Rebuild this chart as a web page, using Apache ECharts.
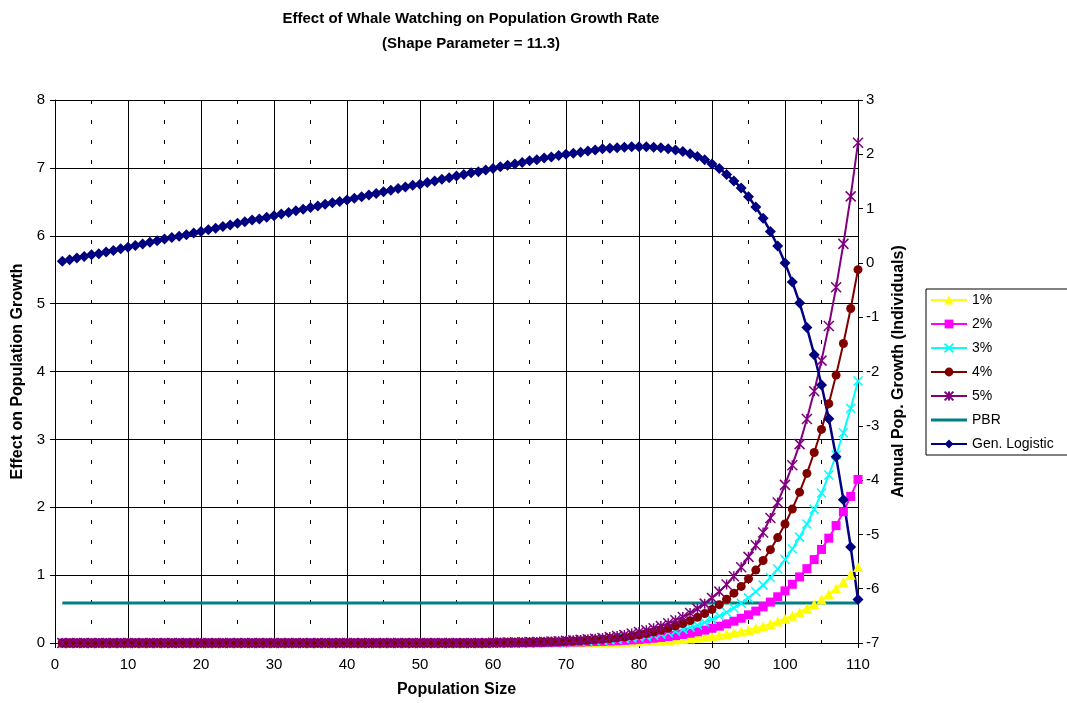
<!DOCTYPE html>
<html>
<head>
<meta charset="utf-8">
<script src="https://cdn.jsdelivr.net/npm/echarts@6/dist/echarts.min.js"></script>
<style>
  html, body { margin: 0; padding: 0; background: #fff; }
  #chart { width: 1067px; height: 703px; }
</style>
</head>
<body>
<div id="chart"></div>
<script>
// population sizes (x values of every marker)
const popSize = [
  1, 2, 3, 4, 5, 6, 7, 8, 9, 10,
  11, 12, 13, 14, 15, 16, 17, 18, 19, 20,
  21, 22, 23, 24, 25, 26, 27, 28, 29, 30,
  31, 32, 33, 34, 35, 36, 37, 38, 39, 40,
  41, 42, 43, 44, 45, 46, 47, 48, 49, 50,
  51, 52, 53, 54, 55, 56, 57, 58, 59, 60,
  61, 62, 63, 64, 65, 66, 67, 68, 69, 70,
  71, 72, 73, 74, 75, 76, 77, 78, 79, 80,
  81, 82, 83, 84, 85, 86, 87, 88, 89, 90,
  91, 92, 93, 94, 95, 96, 97, 98, 99, 100,
  101, 102, 103, 104, 105, 106, 107, 108, 109, 110
]

// effect on population growth (left axis), one value per popSize
const eff1 = [
  0, 0, 0, 0, 0, 0, 0, 0, 0, 0,
  0, 0, 0, 0, 0, 0, 0, 0, 0, 0,
  0, 0, 0, 0, 0, 0, 0, 0, 0, 0,
  0, 0, 0, 0, 0, 0, 0, 0, 0, 0,
  0, 0, 0, 0, 0, 0, 0, 0, 0, 0,
  0, 0, 0, 0, 0, 0, 0, 0, 0,
  0.001, 0.001, 0.001, 0.001, 0.002, 0.002, 0.002, 0.003, 0.003, 0.004,
  0.005, 0.006, 0.007, 0.008, 0.010, 0.011, 0.013, 0.016, 0.018, 0.021,
  0.025, 0.028, 0.033, 0.038, 0.044, 0.051, 0.058, 0.067, 0.077, 0.088,
  0.101, 0.115, 0.131, 0.149, 0.170, 0.193, 0.219, 0.248, 0.280, 0.316,
  0.357, 0.402, 0.453, 0.509, 0.571, 0.641, 0.718, 0.804, 0.899, 1.004,
  1.12
]
const eff2 = [
  0, 0, 0, 0, 0, 0, 0, 0, 0, 0,
  0, 0, 0, 0, 0, 0, 0, 0, 0, 0,
  0, 0, 0, 0, 0, 0, 0, 0, 0, 0,
  0, 0, 0, 0, 0, 0, 0, 0, 0, 0,
  0, 0, 0, 0, 0, 0, 0, 0, 0, 0,
  0, 0, 0, 0, 0, 0, 0, 0, 0,
  0.002, 0.002, 0.002, 0.003, 0.004, 0.004, 0.005, 0.006, 0.008, 0.009,
  0.011, 0.013, 0.015, 0.018, 0.021, 0.024, 0.029, 0.033, 0.039, 0.045,
  0.053, 0.061, 0.071, 0.082, 0.095, 0.109, 0.126, 0.144, 0.166, 0.190,
  0.217, 0.248, 0.282, 0.321, 0.365, 0.415, 0.470, 0.533, 0.603, 0.681,
  0.768, 0.865, 0.974, 1.095, 1.229, 1.379, 1.545, 1.730, 1.934, 2.160,
  2.41
]
const eff3 = [
  0, 0, 0, 0, 0, 0, 0, 0, 0, 0,
  0, 0, 0, 0, 0, 0, 0, 0, 0, 0,
  0, 0, 0, 0, 0, 0, 0, 0, 0, 0,
  0, 0, 0, 0, 0, 0, 0, 0, 0, 0,
  0, 0, 0, 0, 0, 0, 0, 0, 0, 0,
  0, 0, 0, 0, 0, 0, 0, 0, 0,
  0.003, 0.003, 0.004, 0.005, 0.006, 0.007, 0.008, 0.010, 0.012, 0.014,
  0.017, 0.020, 0.024, 0.028, 0.033, 0.039, 0.046, 0.053, 0.062, 0.073,
  0.085, 0.098, 0.114, 0.131, 0.152, 0.175, 0.201, 0.231, 0.265, 0.304,
  0.347, 0.397, 0.452, 0.515, 0.585, 0.665, 0.754, 0.853, 0.965, 1.090,
  1.230, 1.386, 1.560, 1.754, 1.969, 2.209, 2.475, 2.770, 3.097, 3.459,
  3.86
]
const eff4 = [
  0, 0, 0, 0, 0, 0, 0, 0, 0, 0,
  0, 0, 0, 0, 0, 0, 0, 0, 0, 0,
  0, 0, 0, 0, 0, 0, 0, 0, 0, 0,
  0, 0, 0, 0, 0, 0, 0, 0, 0, 0,
  0, 0, 0, 0, 0, 0, 0, 0, 0, 0,
  0, 0, 0, 0, 0, 0, 0, 0, 0,
  0.004, 0.005, 0.006, 0.007, 0.008, 0.010, 0.012, 0.014, 0.017, 0.020,
  0.024, 0.029, 0.034, 0.040, 0.047, 0.056, 0.065, 0.076, 0.089, 0.104,
  0.120, 0.140, 0.162, 0.187, 0.216, 0.249, 0.287, 0.329, 0.378, 0.433,
  0.495, 0.565, 0.644, 0.734, 0.834, 0.947, 1.074, 1.216, 1.375, 1.553,
  1.753, 1.975, 2.222, 2.499, 2.806, 3.147, 3.526, 3.947, 4.413, 4.929,
  5.50
]
const eff5 = [
  0, 0, 0, 0, 0, 0, 0, 0, 0, 0,
  0, 0, 0, 0, 0, 0, 0, 0, 0, 0,
  0, 0, 0, 0, 0, 0, 0, 0, 0, 0,
  0, 0, 0, 0, 0, 0, 0, 0, 0, 0,
  0, 0, 0, 0, 0, 0, 0, 0, 0, 0,
  0, 0, 0, 0, 0, 0, 0, 0, 0,
  0.005, 0.006, 0.008, 0.009, 0.011, 0.013, 0.016, 0.019, 0.023, 0.027,
  0.033, 0.039, 0.046, 0.054, 0.063, 0.074, 0.087, 0.102, 0.119, 0.139,
  0.161, 0.187, 0.217, 0.251, 0.290, 0.334, 0.384, 0.441, 0.506, 0.580,
  0.663, 0.757, 0.863, 0.983, 1.117, 1.269, 1.439, 1.629, 1.843, 2.070,
  2.330, 2.620, 2.930, 3.300, 3.710, 4.160, 4.670, 5.240, 5.880, 6.580,
  7.37
]

// PBR is flat across the whole range
const pbrX = [1, 110]
const pbrValue = [0.59, 0.59]

// annual pop. growth (right axis)
const genLogistic = [
  0.03, 0.06, 0.09, 0.12, 0.15, 0.17, 0.20, 0.23, 0.26, 0.29,
  0.32, 0.35, 0.38, 0.41, 0.44, 0.47, 0.49, 0.52, 0.55, 0.58,
  0.61, 0.64, 0.67, 0.70, 0.73, 0.76, 0.79, 0.81, 0.84, 0.87,
  0.90, 0.93, 0.96, 0.99, 1.02, 1.05, 1.08, 1.11, 1.13, 1.16,
  1.19, 1.22, 1.25, 1.28, 1.31, 1.34, 1.37, 1.40, 1.43, 1.45,
  1.48, 1.51, 1.54, 1.57, 1.60, 1.63, 1.66, 1.68, 1.71, 1.74,
  1.77, 1.80, 1.82, 1.85, 1.88, 1.90, 1.93, 1.95, 1.98, 2.00,
  2.02, 2.04, 2.06, 2.08, 2.10, 2.11, 2.12, 2.13, 2.14, 2.14,
  2.14, 2.13, 2.12, 2.10, 2.08, 2.05, 2.01, 1.96, 1.90, 1.82,
  1.74, 1.63, 1.51, 1.38, 1.22, 1.03, 0.82, 0.58, 0.31, 0.00,
  -0.35, -0.74, -1.19, -1.69, -2.25, -2.87, -3.57, -4.36, -5.23, -6.20
]

const FONT = "'Liberation Sans', Arial, sans-serif"
const SYM_X = 'path://M0,0L10,10M10,0L0,10'
const SYM_STAR = 'path://M0,0L10,10M10,0L0,10M5,0L5,10'

function pairs(xs, ys) {
  return xs.map((x, i) => [x, ys[i]])
}

function effectSeries(name, values, color, symbol, size, stroke) {
  return {
    name,
    type: 'line',
    xAxisIndex: 0,
    yAxisIndex: 0,
    data: pairs(popSize, values),
    symbol,
    symbolSize: size,
    lineStyle: { color, width: 2 },
    itemStyle: stroke
      ? { color, borderColor: color, borderWidth: 1.5 }
      : { color, borderWidth: 0 },
  }
}

const chart = echarts.init(document.getElementById('chart'))

const axisName = { fontWeight: 'bold', fontSize: 16, color: '#000' }

const option = {
  animation: false,
  backgroundColor: '#fff',
  textStyle: { fontFamily: FONT },
  graphic: [
    {
      type: 'text',
      x: 471,
      y: 6,
      style: {
        text: 'Effect of Whale Watching on Population Growth Rate\n(Shape Parameter = 11.3)',
        textAlign: 'center',
        font: 'bold 15px ' + FONT,
        lineHeight: 25,
        fill: '#000',
      },
    },
  ],
  grid: { left: 55, right: 209, top: 100, bottom: 58 },
  legend: {
    orient: 'vertical',
    left: 926,
    top: 289,
    padding: [4, 14, 4, 4],
    itemGap: 10,
    itemWidth: 36,
    itemHeight: 11,
    borderColor: '#000',
    borderWidth: 1,
    textStyle: { fontSize: 14, color: '#000', fontFamily: FONT },
    data: [
      '1%', '2%', '3%', '4%', '5%',
      // plain line, no marker, for PBR
      { name: 'PBR', icon: 'path://M0,0H36V3H0Z' },
      'Gen. Logistic',
    ],
  },
  xAxis: {
    type: 'value',
    min: 0,
    max: 110,
    interval: 10,
    name: 'Population Size',
    nameLocation: 'middle',
    nameGap: 39,
    nameTextStyle: axisName,
    axisLine: { show: true, lineStyle: { color: '#000', width: 1 } },
    axisTick: { show: true, length: 5, lineStyle: { color: '#000' } },
    axisLabel: { fontSize: 15, color: '#000', margin: 14 },
    splitLine: { show: true, lineStyle: { color: '#000', width: 1 } },
    minorTick: { show: false, splitNumber: 2 },
    minorSplitLine: { show: true, lineStyle: { color: '#000', width: 1, type: [4, 16] } },
  },
  yAxis: [
    {
      type: 'value',
      min: 0,
      max: 8,
      interval: 1,
      name: 'Effect on Population Growth',
      nameLocation: 'middle',
      nameGap: 29,
      nameRotate: 90,
      nameTextStyle: axisName,
      axisLine: { show: true, lineStyle: { color: '#000', width: 1 } },
      axisTick: { show: true, length: 5, lineStyle: { color: '#000' } },
      axisLabel: { fontSize: 15, color: '#000', margin: 10 },
      splitLine: { show: true, lineStyle: { color: '#000', width: 1 } },
    },
    {
      type: 'value',
      position: 'right',
      min: -7,
      max: 3,
      interval: 1,
      name: 'Annual Pop. Growth (Individuals)',
      nameLocation: 'middle',
      nameGap: 33,
      nameRotate: 90,
      nameTextStyle: axisName,
      axisLine: { show: true, lineStyle: { color: '#000', width: 1 } },
      axisTick: { show: true, length: 5, lineStyle: { color: '#000' } },
      axisLabel: { fontSize: 15, color: '#000', margin: 8 },
      splitLine: { show: false },
    },
  ],
  series: [
    effectSeries('1%', eff1, '#ffff00', 'triangle', 10, false),
    effectSeries('2%', eff2, '#ff00ff', 'rect', 9, false),
    effectSeries('3%', eff3, '#00ffff', SYM_X, 9, true),
    effectSeries('4%', eff4, '#800000', 'circle', 9, false),
    effectSeries('5%', eff5, '#800080', SYM_STAR, 10, true),
    {
      name: 'PBR',
      type: 'line',
      xAxisIndex: 0,
      yAxisIndex: 0,
      data: pairs(pbrX, pbrValue),
      symbol: 'none',
      lineStyle: { color: '#008080', width: 3 },
      itemStyle: { color: '#008080' },
    },
    {
      name: 'Gen. Logistic',
      type: 'line',
      xAxisIndex: 0,
      yAxisIndex: 1,
      data: pairs(popSize, genLogistic),
      symbol: 'diamond',
      symbolSize: 11,
      lineStyle: { color: '#000080', width: 2.5 },
      itemStyle: { color: '#000080', borderWidth: 0 },
    },
  ],
}

chart.setOption(option)
</script>
</body>
</html>
